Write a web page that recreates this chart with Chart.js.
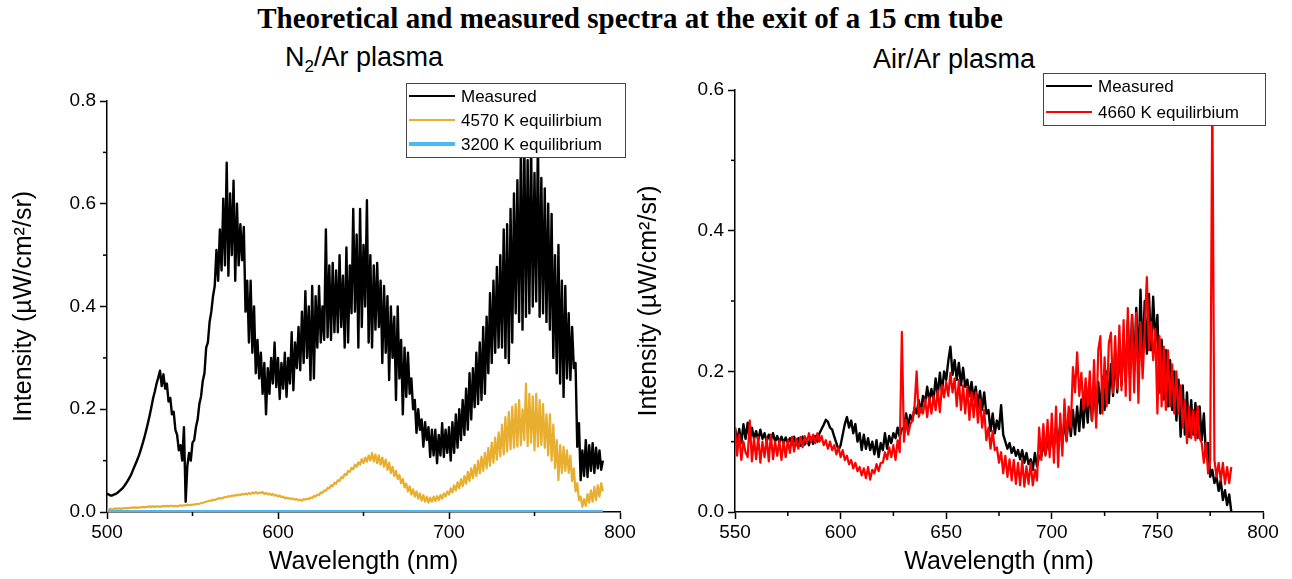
<!DOCTYPE html>
<html>
<head>
<meta charset="utf-8">
<script src="https://cdn.jsdelivr.net/npm/chart.js@4.4.1/dist/chart.umd.min.js"></script>
<style>
  body { margin: 0; background: #fff; width: 1292px; height: 579px; position: relative; overflow: hidden;
         font-family: 'Liberation Sans', Arial, sans-serif; }
  canvas { position: absolute; top: 0; }
  #leftChart { left: 0; }
  #rightChart { left: 625px; }
  .txt { position: absolute; white-space: nowrap; color: #000; }
  #mainTitle { left: 0; width: 1260px; text-align: center; top: 1px; line-height: 34px;
               font: bold 29px/34px 'Liberation Serif', 'Times New Roman', serif; }
  #leftSub { left: 285px; top: 42px; font-size: 27px; line-height: 31px; }
  #leftSub sub { font-size: 17px; vertical-align: -6px; line-height: 0; }
  #rightSub { left: 873px; top: 44px; font-size: 27px; line-height: 31px; }
</style>
</head>
<body>
<div id="mainTitle" class="txt">Theoretical and measured spectra at the exit of a 15 cm tube</div>
<div id="leftSub" class="txt">N<sub>2</sub>/Ar plasma</div>
<div id="rightSub" class="txt">Air/Ar plasma</div>
<canvas id="leftChart" width="650" height="579"></canvas>
<canvas id="rightChart" width="667" height="579"></canvas>
<script>
// N2/Ar plasma, wavelengths 500..790 nm every 1 nm
const n2Start = 500, n2Step = 1;
const n2Measured = [
  0.036,0.034,0.032,0.032,0.034,0.035,0.037,0.040,0.043,0.046,
  0.050,0.055,0.060,0.066,0.072,0.080,0.088,0.096,0.104,0.113,
  0.124,0.135,0.147,0.160,0.174,0.189,0.205,0.222,0.235,0.250,
  0.262,0.275,0.245,0.268,0.240,0.250,0.215,0.222,0.190,0.195,
  0.160,0.150,0.120,0.130,0.100,0.165,0.020,0.090,0.115,0.100,
  0.135,0.140,0.165,0.180,0.210,0.225,0.255,0.270,0.320,0.330,
  0.370,0.390,0.420,0.440,0.510,0.450,0.550,0.470,0.610,0.480,
  0.680,0.460,0.620,0.500,0.645,0.450,0.600,0.480,0.560,0.490,
  0.555,0.390,0.450,0.330,0.450,0.310,0.400,0.270,0.335,0.260,
  0.310,0.230,0.290,0.190,0.280,0.230,0.300,0.250,0.330,0.243,
  0.300,0.220,0.290,0.240,0.310,0.224,0.300,0.250,0.350,0.237,
  0.330,0.280,0.360,0.276,0.390,0.290,0.430,0.300,0.400,0.257,
  0.440,0.260,0.420,0.320,0.440,0.330,0.400,0.335,0.550,0.340,
  0.480,0.335,0.485,0.350,0.470,0.350,0.500,0.360,0.460,0.320,
  0.515,0.330,0.480,0.387,0.590,0.390,0.540,0.320,0.590,0.360,
  0.520,0.400,0.607,0.330,0.500,0.320,0.480,0.355,0.485,0.360,
  0.450,0.290,0.440,0.310,0.420,0.257,0.400,0.300,0.380,0.218,
  0.400,0.260,0.335,0.190,0.320,0.224,0.310,0.230,0.260,0.200,
  0.218,0.154,0.200,0.160,0.180,0.127,0.175,0.140,0.165,0.107,
  0.160,0.110,0.160,0.095,0.150,0.110,0.173,0.107,0.160,0.115,
  0.165,0.100,0.175,0.115,0.190,0.125,0.200,0.140,0.218,0.150,
  0.240,0.160,0.270,0.180,0.280,0.204,0.310,0.210,0.330,0.218,
  0.360,0.230,0.380,0.270,0.426,0.290,0.450,0.310,0.477,0.320,
  0.500,0.320,0.550,0.300,0.560,0.290,0.590,0.330,0.620,0.387,
  0.646,0.370,0.690,0.355,0.740,0.380,0.685,0.387,0.720,0.400,
  0.660,0.410,0.730,0.380,0.650,0.387,0.630,0.370,0.600,0.355,
  0.580,0.300,0.500,0.270,0.520,0.250,0.450,0.224,0.440,0.260,
  0.387,0.257,0.360,0.280,0.290,0.127,0.173,0.062,0.120,0.070,
  0.140,0.068,0.130,0.080,0.134,0.076,0.125,0.085,0.120,0.082,
  0.100
];
const n2Equil4570 = [
  0.006,0.005,0.006,0.005,0.006,0.007,0.006,0.007,0.006,0.007,
  0.007,0.008,0.007,0.008,0.008,0.009,0.008,0.009,0.008,0.009,
  0.009,0.010,0.009,0.010,0.010,0.011,0.010,0.011,0.010,0.011,
  0.011,0.010,0.011,0.012,0.011,0.012,0.011,0.012,0.012,0.011,
  0.012,0.011,0.012,0.013,0.012,0.013,0.013,0.014,0.013,0.014,
  0.014,0.015,0.015,0.016,0.016,0.017,0.018,0.019,0.020,0.021,
  0.022,0.022,0.024,0.023,0.025,0.026,0.027,0.026,0.028,0.029,
  0.029,0.031,0.030,0.032,0.031,0.033,0.032,0.034,0.033,0.035,
  0.034,0.036,0.034,0.037,0.035,0.038,0.036,0.039,0.036,0.038,
  0.037,0.039,0.035,0.037,0.034,0.036,0.033,0.035,0.032,0.033,
  0.030,0.032,0.029,0.030,0.027,0.028,0.026,0.027,0.025,0.026,
  0.024,0.025,0.023,0.024,0.022,0.025,0.024,0.026,0.025,0.028,
  0.027,0.031,0.030,0.034,0.033,0.038,0.037,0.042,0.041,0.047,
  0.046,0.052,0.050,0.057,0.055,0.062,0.060,0.068,0.066,0.074,
  0.072,0.080,0.078,0.086,0.083,0.092,0.088,0.097,0.092,0.103,
  0.095,0.106,0.098,0.110,0.100,0.115,0.098,0.112,0.095,0.110,
  0.092,0.106,0.088,0.102,0.082,0.096,0.076,0.088,0.070,0.080,
  0.064,0.072,0.056,0.064,0.048,0.055,0.040,0.050,0.034,0.044,
  0.030,0.040,0.026,0.036,0.022,0.033,0.020,0.030,0.018,0.028,
  0.020,0.030,0.021,0.031,0.023,0.033,0.026,0.036,0.030,0.040,
  0.034,0.046,0.038,0.052,0.042,0.058,0.046,0.064,0.050,0.070,
  0.055,0.078,0.060,0.085,0.066,0.092,0.070,0.100,0.075,0.108,
  0.080,0.115,0.085,0.125,0.090,0.135,0.096,0.145,0.102,0.155,
  0.108,0.170,0.112,0.185,0.118,0.195,0.122,0.205,0.125,0.210,
  0.127,0.218,0.130,0.200,0.140,0.250,0.128,0.230,0.135,0.225,
  0.120,0.230,0.127,0.218,0.130,0.210,0.125,0.190,0.110,0.190,
  0.100,0.170,0.085,0.140,0.062,0.130,0.076,0.127,0.080,0.120,
  0.076,0.110,0.060,0.085,0.040,0.056,0.023,0.030,0.010,0.025,
  0.012,0.035,0.018,0.042,0.020,0.049,0.023,0.052,0.030,0.056,
  0.040
];
const n2Equil3200Wl = [500, 790];
const n2Equil3200 = [0, 0];
const n2XTicks = [500, 600, 700, 800];
const n2XMinor = [550, 650, 750];
const n2YTicks = [0, 0.2, 0.4, 0.6, 0.8];
const n2YMinor = [0.1, 0.3, 0.5, 0.7];

// Air/Ar plasma, wavelengths 550..785 nm every 1 nm
const airStart = 550, airStep = 1;
const airMeasured = [
  0.120,0.100,0.118,0.098,0.125,0.104,0.127,0.102,0.120,0.104,
  0.115,0.102,0.117,0.104,0.112,0.100,0.110,0.102,0.112,0.100,
  0.108,0.099,0.107,0.098,0.106,0.098,0.105,0.096,0.107,0.095,
  0.105,0.094,0.107,0.096,0.104,0.095,0.106,0.097,0.108,0.100,
  0.112,0.118,0.124,0.131,0.128,0.120,0.117,0.107,0.098,0.088,
  0.095,0.110,0.125,0.135,0.120,0.130,0.112,0.125,0.100,0.112,
  0.088,0.110,0.090,0.105,0.088,0.100,0.082,0.102,0.078,0.098,
  0.088,0.112,0.090,0.108,0.098,0.112,0.105,0.120,0.107,0.118,
  0.120,0.140,0.122,0.138,0.130,0.148,0.140,0.159,0.142,0.165,
  0.155,0.178,0.158,0.175,0.159,0.190,0.165,0.198,0.170,0.200,
  0.188,0.215,0.235,0.195,0.216,0.188,0.212,0.180,0.205,0.178,
  0.188,0.165,0.185,0.160,0.178,0.150,0.172,0.145,0.170,0.140,
  0.145,0.115,0.140,0.112,0.130,0.118,0.152,0.110,0.100,0.090,
  0.098,0.084,0.092,0.080,0.088,0.075,0.088,0.070,0.084,0.068,
  0.075,0.060,0.084,0.065,0.080,0.078,0.098,0.082,0.100,0.088,
  0.110,0.092,0.120,0.095,0.125,0.100,0.130,0.102,0.140,0.108,
  0.145,0.110,0.150,0.115,0.160,0.120,0.170,0.127,0.178,0.130,
  0.180,0.135,0.185,0.140,0.192,0.145,0.200,0.155,0.210,0.165,
  0.226,0.170,0.235,0.180,0.250,0.185,0.273,0.192,0.280,0.200,
  0.290,0.205,0.316,0.216,0.300,0.225,0.310,0.230,0.306,0.240,
  0.280,0.170,0.245,0.160,0.230,0.150,0.216,0.145,0.200,0.130,
  0.188,0.107,0.180,0.110,0.170,0.107,0.159,0.110,0.155,0.105,
  0.150,0.102,0.140,0.080,0.098,0.050,0.060,0.041,0.050,0.030,
  0.045,0.017,0.031,0.010,0.025,0.000
];
const airEquil4660 = [
  0.120,0.080,0.110,0.074,0.100,0.085,0.078,0.130,0.072,0.105,
  0.075,0.107,0.070,0.100,0.078,0.105,0.072,0.110,0.075,0.100,
  0.080,0.102,0.074,0.100,0.078,0.102,0.084,0.107,0.086,0.104,
  0.090,0.107,0.092,0.108,0.098,0.112,0.100,0.110,0.098,0.112,
  0.100,0.108,0.095,0.102,0.090,0.100,0.088,0.095,0.082,0.092,
  0.078,0.088,0.074,0.080,0.068,0.074,0.062,0.070,0.058,0.064,
  0.052,0.062,0.048,0.064,0.046,0.060,0.055,0.068,0.058,0.070,
  0.070,0.085,0.075,0.092,0.078,0.095,0.074,0.102,0.085,0.256,
  0.100,0.131,0.110,0.125,0.130,0.150,0.200,0.135,0.148,0.140,
  0.160,0.135,0.163,0.140,0.165,0.145,0.173,0.142,0.180,0.163,
  0.185,0.165,0.198,0.170,0.190,0.150,0.188,0.145,0.180,0.140,
  0.178,0.131,0.170,0.135,0.170,0.127,0.160,0.120,0.145,0.102,
  0.120,0.090,0.115,0.088,0.092,0.070,0.085,0.055,0.080,0.050,
  0.075,0.045,0.074,0.040,0.070,0.038,0.074,0.036,0.065,0.040,
  0.070,0.038,0.060,0.045,0.120,0.074,0.125,0.080,0.131,0.078,
  0.140,0.070,0.150,0.064,0.140,0.080,0.160,0.100,0.150,0.120,
  0.206,0.170,0.227,0.165,0.198,0.145,0.190,0.150,0.200,0.130,
  0.216,0.120,0.230,0.250,0.140,0.220,0.150,0.240,0.255,0.170,
  0.250,0.175,0.265,0.173,0.273,0.165,0.290,0.159,0.280,0.170,
  0.283,0.155,0.270,0.190,0.260,0.334,0.230,0.270,0.216,0.260,
  0.140,0.250,0.150,0.235,0.145,0.230,0.150,0.210,0.140,0.200,
  0.140,0.180,0.120,0.159,0.098,0.150,0.105,0.145,0.102,0.150,
  0.105,0.098,0.070,0.098,0.055,0.074,0.600,0.074,0.050,0.070,
  0.045,0.070,0.040,0.064,0.041,0.064
];
const airXTicks = [550, 600, 650, 700, 750, 800];
const airXMinor = [575, 625, 675, 725, 775];
const airYTicks = [0, 0.2, 0.4, 0.6];
const airYMinor = [0.1, 0.3, 0.5];

const font = "'Liberation Sans', Arial, sans-serif";

function toPoints(start, step, values) {
  return values.map((v, i) => ({ x: start + i * step, y: v }));
}

// legend drawn in a box inside the plot, like the original
const boxLegend = {
  id: 'boxLegend',
  afterDraw(chart, args, o) {
    const ctx = chart.ctx;
    const sets = chart.data.datasets;
    const h = o.padTop * 2 + (sets.length - 1) * o.rowH;
    ctx.save();
    ctx.fillStyle = '#fff';
    ctx.fillRect(o.left, o.top, o.width, h);
    ctx.strokeStyle = '#444';
    ctx.lineWidth = 1;
    ctx.strokeRect(o.left + 0.5, o.top + 0.5, o.width, h);
    ctx.font = '17px ' + font;
    ctx.textBaseline = 'middle';
    sets.forEach((ds, i) => {
      const cy = o.top + o.padTop + i * o.rowH;
      ctx.strokeStyle = ds.borderColor;
      ctx.lineWidth = ds.legendWidth || ds.borderWidth;
      ctx.beginPath();
      ctx.moveTo(o.left + 3, cy);
      ctx.lineTo(o.left + 49, cy);
      ctx.stroke();
      ctx.fillStyle = '#000';
      ctx.fillText(ds.label, o.left + 55, cy + 1);
    });
    ctx.restore();
  }
};

// short minor ticks between the labelled ones
const minorTicks = {
  id: 'minorTicks',
  afterDraw(chart, args, o) {
    const { ctx, scales: { x, y } } = chart;
    ctx.save();
    ctx.strokeStyle = '#000';
    ctx.lineWidth = 1.5;
    o.x.forEach(v => {
      const px = x.getPixelForValue(v);
      ctx.beginPath(); ctx.moveTo(px, y.bottom); ctx.lineTo(px, y.bottom + o.len); ctx.stroke();
    });
    o.y.forEach(v => {
      const py = y.getPixelForValue(v);
      ctx.beginPath(); ctx.moveTo(x.left, py); ctx.lineTo(x.left - o.len, py); ctx.stroke();
    });
    ctx.restore();
  }
};

function axes(xMin, xMax, xTicks, yMax, yTicks, yWidth) {
  const grid = { drawOnChartArea: false, drawTicks: true, tickLength: 7, tickColor: '#000', tickWidth: 1.5 };
  const border = { color: '#000', width: 1.5 };
  return {
    x: {
      type: 'linear', min: xMin, max: xMax, grid, border,
      afterBuildTicks: s => { s.ticks = xTicks.map(v => ({ value: v })); },
      afterFit: s => { s.height = 67; },
      ticks: { color: '#000', font: { family: font, size: 19 }, padding: 2, maxRotation: 0, autoSkip: false },
      title: { display: true, text: 'Wavelength (nm)', color: '#000',
               font: { family: font, size: 25 }, padding: { top: 0, bottom: 2 } }
    },
    y: {
      min: 0, max: yMax, grid, border,
      afterBuildTicks: s => { s.ticks = yTicks.map(v => ({ value: v })); },
      afterFit: s => { s.width = yWidth; },
      ticks: { color: '#000', font: { family: font, size: 19 }, padding: 4,
               callback: v => Number(v).toFixed(1) },
      title: { display: true, text: 'Intensity (\u00b5W/cm\u00b2/sr)', color: '#000',
               font: { family: font, size: 25 }, padding: { top: 9, bottom: 0 } }
    }
  };
}

const common = {
  responsive: false,
  animation: false,
  events: [],
  elements: { point: { radius: 0 }, line: { tension: 0, borderJoinStyle: 'round' } },
  plugins: { legend: { display: false }, tooltip: { enabled: false } }
};

new Chart(document.getElementById('leftChart'), {
  type: 'line',
  data: {
    datasets: [
      { label: 'Measured', data: toPoints(n2Start, n2Step, n2Measured),
        borderColor: '#000000', borderWidth: 2.4, legendWidth: 2, order: 2 },
      { label: '4570 K equilirbium', data: toPoints(n2Start, n2Step, n2Equil4570),
        borderColor: '#e8ae2f', borderWidth: 2.2, legendWidth: 2, order: 1 },
      { label: '3200 K equilibrium', data: n2Equil3200Wl.map((w, i) => ({ x: w, y: n2Equil3200[i] })),
        borderColor: '#4db8f8', borderWidth: 4, legendWidth: 4, order: 0 }
    ]
  },
  options: {
    ...common,
    layout: { padding: { left: 0, top: 101, right: 30, bottom: 0 } },
    scales: axes(500, 800, n2XTicks, 0.8, n2YTicks, 107),
    plugins: {
      ...common.plugins,
      boxLegend: { left: 406, top: 83, width: 219, padTop: 13, rowH: 24 },
      minorTicks: { x: n2XMinor, y: n2YMinor, len: 4 }
    }
  },
  plugins: [boxLegend, minorTicks]
});

new Chart(document.getElementById('rightChart'), {
  type: 'line',
  data: {
    datasets: [
      { label: 'Measured', data: toPoints(airStart, airStep, airMeasured),
        borderColor: '#000000', borderWidth: 2.4, legendWidth: 2, order: 1 },
      { label: '4660 K equilirbium', data: toPoints(airStart, airStep, airEquil4660),
        borderColor: '#ff0000', borderWidth: 2.2, legendWidth: 2, order: 0 }
    ]
  },
  options: {
    ...common,
    layout: { padding: { left: 0, top: 90, right: 29, bottom: 0 } },
    scales: axes(550, 800, airXTicks, 0.6, airYTicks, 110),
    plugins: {
      ...common.plugins,
      boxLegend: { left: 418, top: 73, width: 222, padTop: 13, rowH: 26 },
      minorTicks: { x: airXMinor, y: airYMinor, len: 4 }
    }
  },
  plugins: [boxLegend, minorTicks]
});
</script>
</body>
</html>
